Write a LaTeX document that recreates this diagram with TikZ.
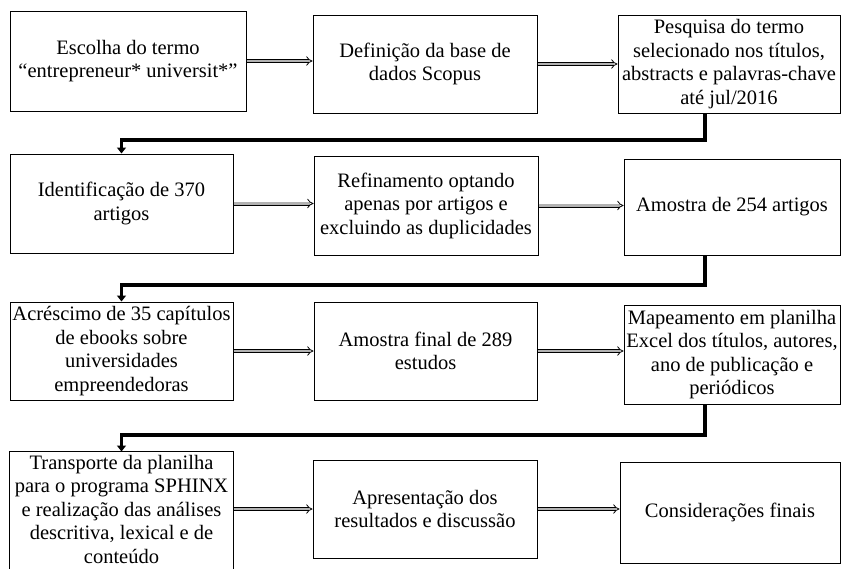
\documentclass[tikz,border=0pt]{standalone}
\usepackage{fontspec}
\setmainfont{Liberation Serif}
\usetikzlibrary{arrows.meta}
\begin{document}
\begin{tikzpicture}[x=1pt,y=-1pt,
  box/.style={draw=black, line width=1pt, rectangle, inner sep=0pt, align=center,
    font=\fontsize{20.5}{23.5}\selectfont},
  dbl/.style={draw=black, line width=0.8pt, double=gray!60, double distance=2.4pt, -{Implies}},
  conn/.style={draw=black, line width=3.5pt, -{Triangle[length=6pt,width=9pt]}}]
\useasboundingbox (0,0) rectangle (841,568);
\node[box, minimum width=236pt, minimum height=100pt] (A) at (128,61) {Escolha do termo\\“entrepreneur* universit*”};
\node[box, minimum width=224pt, minimum height=98pt] (B) at (425,64) {Definição da base de\\dados Scopus};
\node[box, minimum width=222pt, minimum height=98pt] (C) at (729,64) {Pesquisa do termo\\selecionado nos títulos,\\abstracts e palavras-chave\\até jul/2016};
\node[box, minimum width=223pt, minimum height=99pt] (D) at (121.5,203.5) {Identificação de 370\\artigos};
\node[box, minimum width=224pt, minimum height=99pt] (E) at (426,205.5) {Refinamento optando\\apenas por artigos e\\excluindo as duplicidades};
\node[box, minimum width=216pt, minimum height=96pt] (F) at (732,207) {Amostra de 254 artigos};
\node[box, minimum width=223pt, minimum height=98pt] (G) at (121.5,351) {Acréscimo de 35 capítulos\\de ebooks sobre\\universidades\\empreendedoras};
\node[box, minimum width=223pt, minimum height=98pt] (H) at (425.5,351) {Amostra final de 289\\estudos};
\node[box, minimum width=216pt, minimum height=99pt] (I) at (732,354.5) {Mapeamento em planilha\\Excel dos títulos, autores,\\ano de publicação e\\periódicos};
\node[box, draw=none, minimum width=223pt, minimum height=114pt] (J) at (121.5,509) {Transporte da planilha\\para o programa SPHINX\\e realização das análises\\descritiva, lexical e de\\conteúdo};
\draw[line width=1pt] (J.north west) rectangle (J.east |- 0,590);
\node[box, minimum width=224pt, minimum height=98pt] (K) at (425,509) {Apresentação dos\\resultados e discussão};
\node[box, minimum width=220pt, minimum height=101pt] (L) at (730,512.5) {Considerações finais};
% double arrows
\draw[dbl] (A.east) -- (A.east -| B.west);
\draw[dbl] (B.east) -- (B.east -| C.west);
\draw[dbl] (D.east) -- (D.east -| E.west);
\draw[dbl] (E.east) -- (E.east -| F.west);
\draw[dbl] (G.east) -- (G.east -| H.west);
\draw[dbl] (H.east) -- (H.east -| I.west);
\draw[dbl] (J.east |- K.east) -- (K.west);
\draw[dbl] (K.east) -- (K.east -| L.west);
% thick connectors
\coordinate (c1) at (705,140);
\coordinate (c2) at (705,285);
\coordinate (c3) at (705,435);
\draw[conn] (C.south -| c1) -- (c1) -- (D.north |- c1) -- (D.north);
\draw[conn] (F.south -| c2) -- (c2) -- (G.north |- c2) -- (G.north);
\draw[conn] (I.south -| c3) -- (c3) -- (J.north |- c3) -- (J.north);
\end{tikzpicture}
\end{document}
